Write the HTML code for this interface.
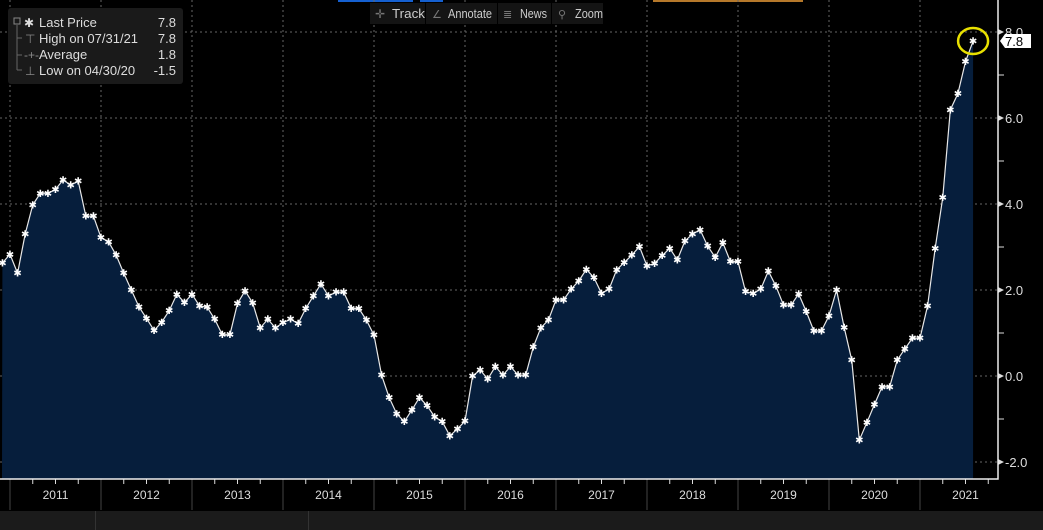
<!DOCTYPE html>
<html><head><meta charset="utf-8"><style>
html,body{margin:0;padding:0;background:#000;}
svg{display:block;font-family:"Liberation Sans",sans-serif;}
</style></head><body>
<svg id="chart" width="1043" height="530" viewBox="0 0 1043 530">
<rect x="0" y="0" width="1043" height="530" fill="#000"/>
<g id="top-strip">
<rect x="338" y="0" width="75" height="2" fill="#1560d0"/>
<rect x="420" y="0" width="23" height="2" fill="#1560d0"/>
<rect x="653" y="0" width="150" height="2" fill="#b5782a"/>
</g>
<g id="grid"></g>
<path id="area" fill="#061e3c"/>
<polyline id="line" fill="none" stroke="#e8e8e8" stroke-width="1.2"/>
<g id="marks"></g>
<g id="axes"></g>
<g>
<rect x="370" y="3" width="55" height="21" fill="#141414"/>
<text x="375" y="18" fill="#777" font-size="12">✛</text><text x="392" y="18" fill="#ccc" font-size="13" textLength="33" lengthAdjust="spacingAndGlyphs">Track</text>
<rect x="426" y="3" width="71" height="21" fill="#141414"/>
<text x="432" y="18" fill="#777" font-size="11">∠</text><text x="448" y="18" fill="#ccc" font-size="13" textLength="44" lengthAdjust="spacingAndGlyphs">Annotate</text>
<rect x="498" y="3" width="53" height="21" fill="#141414"/>
<text x="503" y="18" fill="#777" font-size="11">≣</text><text x="520" y="18" fill="#ccc" font-size="13" textLength="27" lengthAdjust="spacingAndGlyphs">News</text>
<rect x="552" y="3" width="51" height="21" fill="#141414"/>
<text x="558" y="18" fill="#777" font-size="11">⚲</text>
<text x="575" y="18" fill="#ccc" font-size="13" textLength="28" lengthAdjust="spacingAndGlyphs">Zoom</text>
</g>
<g>
<rect x="8" y="8" width="175" height="76" rx="3" fill="#1a1a1a"/>
<rect x="14" y="18" width="6" height="6" fill="none" stroke="#888" stroke-width="1"/>
<path d="M17 25 V70 M17 38 H22 M17 55 H22 M17 70 H22" stroke="#666" fill="none"/>
<text x="24" y="27" fill="#ddd" font-size="12">✱</text>
<text x="39" y="27" fill="#ddd" font-size="13">Last Price</text>
<text x="176" y="27" fill="#ddd" font-size="13" text-anchor="end">7.8</text>
<text x="25" y="43" fill="#888" font-size="12">⊤</text>
<text x="39" y="43" fill="#ddd" font-size="13">High on 07/31/21</text>
<text x="176" y="43" fill="#ddd" font-size="13" text-anchor="end">7.8</text>
<text x="24" y="59" fill="#888" font-size="12">-+-</text>
<text x="39" y="59" fill="#ddd" font-size="13">Average</text>
<text x="176" y="59" fill="#ddd" font-size="13" text-anchor="end">1.8</text>
<text x="25" y="75" fill="#888" font-size="12">⊥</text>
<text x="39" y="75" fill="#ddd" font-size="13">Low on 04/30/20</text>
<text x="176" y="75" fill="#ddd" font-size="13" text-anchor="end">-1.5</text>
</g>
<rect x="0" y="511" width="1043" height="19" fill="#1b1b1b"/>
<rect x="95" y="511" width="1" height="19" fill="#333"/>
<rect x="308" y="511" width="1" height="19" fill="#333"/>
</svg>
<script>
const values = [2.63,2.83,2.39,3.30,3.98,4.25,4.25,4.34,4.56,4.44,4.53,3.72,3.72,3.22,3.12,2.81,2.39,2.00,1.61,1.34,1.06,1.25,1.52,1.90,1.71,1.90,1.63,1.60,1.32,0.96,0.96,1.69,1.98,1.70,1.12,1.32,1.12,1.24,1.32,1.22,1.57,1.86,2.14,1.86,1.95,1.95,1.57,1.57,1.30,0.95,0.02,-0.50,-0.88,-1.06,-0.79,-0.50,-0.69,-0.95,-1.06,-1.39,-1.23,-1.05,0.00,0.14,-0.07,0.22,0.02,0.22,0.02,0.02,0.67,1.12,1.30,1.77,1.77,2.02,2.21,2.48,2.29,1.92,2.02,2.47,2.64,2.81,3.01,2.56,2.62,2.80,2.97,2.70,3.14,3.30,3.40,3.02,2.76,3.10,2.66,2.66,1.96,1.92,2.02,2.44,2.09,1.65,1.65,1.91,1.50,1.05,1.05,1.40,2.00,1.13,0.37,-1.49,-1.08,-0.66,-0.25,-0.25,0.37,0.63,0.88,0.88,1.63,2.97,4.15,6.19,6.57,7.31,7.79];
const years = ["2011","2012","2013","2014","2015","2016","2017","2018","2019","2020","2021"];
const yTicks = [-2,0,2,4,6,8];
const yTickLabels = ["-2.0","0.0","2.0","4.0","6.0","8.0"];
const lastLabel = "7.8";
const NS = "http://www.w3.org/2000/svg";
const X0 = 10, MONTH = 91/12, Y0 = 376, UNIT = 43, BOTTOM = 479, AXISX = 998;
function xPos(i){ return X0 + (i-1)*MONTH; }
function yPos(v){ return Y0 - v*UNIT; }
function el(tag, attrs, parent){ const e=document.createElementNS(NS,tag); for(const k in attrs) e.setAttribute(k,attrs[k]); parent.appendChild(e); return e; }
const grid=document.getElementById('grid'), axes=document.getElementById('axes'), marks=document.getElementById('marks');
yTicks.forEach((t,i)=>{
  const g=el('line',{x1:0,x2:AXISX,y1:yPos(t),y2:yPos(t),stroke:'#666','stroke-dasharray':'2,3','stroke-width':1},grid);
  
  
  const tri=el('path',{d:`M${AXISX} ${yPos(t)-3} L${AXISX+6} ${yPos(t)} L${AXISX} ${yPos(t)+3}Z`,fill:'#ddd'},axes);
  
  
  const lb=el('text',{x:AXISX+7,y:yPos(t)+5,fill:'#ddd','font-size':13},axes);
  lb.textContent=yTickLabels[i];
  
  
  const mt=el('line',{x1:AXISX,x2:AXISX+6,y1:yPos(t+1),y2:yPos(t+1),stroke:'#ddd'},axes);
  
  
});
for(let y=0;y<=years.length;y++){
  const x=X0+y*91;
  if(x<AXISX){
    const g=el('line',{x1:x,x2:x,y1:0,y2:BOTTOM,stroke:'#666','stroke-dasharray':'2,3','stroke-width':1},grid);
    
    
    const s=el('line',{x1:x,x2:x,y1:BOTTOM,y2:510,stroke:'#444'},axes);
    
    
  }
  for(let q=1;q<4;q++){
    const qx=x+q*91/4;
    if(qx<AXISX){ const t=el('line',{x1:qx,x2:qx,y1:BOTTOM,y2:BOTTOM+5,stroke:'#ddd'},axes);
    
     }
  }
}
years.forEach((yr,i)=>{
  const t=el('text',{x:X0+i*91+45.5,y:499,fill:'#ddd','font-size':12,'text-anchor':'middle'},axes);
  t.textContent=yr;
  
  
});
const axl=el('path',{d:`M0 ${BOTTOM} H${AXISX} V0`,stroke:'#eee','stroke-width':1.5,fill:'none'},axes);


const pts=values.map((v,i)=>[Math.max(2,xPos(i)),yPos(v)]);
document.getElementById('line').setAttribute('points',pts.map(p=>p.join(',')).join(' '));
const last=pts[pts.length-1];
document.getElementById('area').setAttribute('d',`M2 ${BOTTOM} `+pts.map(p=>'L'+p[0]+' '+p[1]).join(' ')+` L${last[0]} ${BOTTOM}Z`);
pts.forEach(p=>{
  const m=el('text',{x:p[0],y:p[1]+3.5,fill:'#fff','font-size':10,'text-anchor':'middle'},marks);
  m.textContent='✱';
  
  
});
const ring=el('ellipse',{cx:last[0],cy:last[1],rx:15,ry:13,fill:'none',stroke:'#e8e000','stroke-width':2.5},axes);


const ly=yPos(values[values.length-1]);
const box=el('path',{d:`M${AXISX+2} ${ly} L${AXISX+7} ${ly-7} H1031 V${ly+7} H${AXISX+7}Z`,fill:'#fff'},axes);


const bt=el('text',{x:1005,y:ly+5,fill:'#000','font-size':13},axes);
bt.textContent=lastLabel;


</script>
</body></html>
